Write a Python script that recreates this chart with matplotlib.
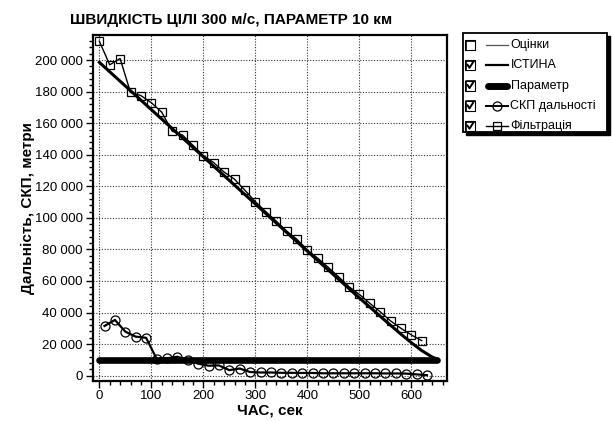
import numpy as np
import matplotlib
matplotlib.use('Agg')
import matplotlib.pyplot as plt
from matplotlib.ticker import MultipleLocator, FuncFormatter
from matplotlib.patches import Rectangle

plt.rcParams['font.family'] = ['Liberation Sans', 'DejaVu Sans']

'''------------------------------------------data------------------------------------------'''
# truth range (ІСТИНА)
t_true = [0, 100, 200, 300, 400, 450, 500, 550, 580, 600, 620, 640, 650]
r_true = [198600, 168600, 138700, 108800, 78900, 64100, 49300, 34800, 26300, 20900, 15900, 11800, 10500]

# parameter line (Параметр)
t_param = [0, 650]
r_param = [10000, 10000]

# filtered range (Фільтрація), every 20 s
t_filt = list(range(0, 640, 20))
r_filt = [212000, 197000, 201000, 179500, 177500, 173000, 167000, 155000,
          152500, 146000, 139500, 135000, 129000, 124500, 117500, 110300,
          104000, 98000, 91700, 86400, 79700, 74400, 68700, 62700,
          56400, 51500, 45900, 40500, 34700, 30000, 25800, 22200]

# range rms error (СКП дальності), every 20 s starting at 10
t_rms = list(range(10, 650, 20))
r_rms = [31500, 35300, 27900, 24700, 24000, 10800, 11000, 12000,
         10000, 7600, 6300, 6500, 3500, 4500, 2300, 2000,
         2000, 1800, 1800, 1700, 1700, 1500, 1500, 1500,
         1500, 1500, 1500, 1400, 1400, 1300, 800, 300]

legend_labels = ['Оцінки', 'ІСТИНА', 'Параметр', 'СКП дальності', 'Фільтрація']
legend_checked = [False, True, True, True, True]

'''------------------------------------------plot------------------------------------------'''
W, H = 612, 421
fig = plt.figure(figsize=(W / 100, H / 100), dpi=100)
ax = fig.add_axes([92.7 / W, 1 - 380.7 / H, (446.7 - 92.7) / W, (380.7 - 35) / H])

ax.plot(t_param, r_param, color='black', lw=4.8, solid_capstyle='round', zorder=3)
ax.plot(t_true, r_true, color='black', lw=2.2, zorder=4)
ax.plot(t_filt, r_filt, color='black', lw=1.0, marker='s', ms=5.5, mfc='none', mew=0.9, zorder=5)
ax.plot(t_rms, r_rms, color='black', lw=1.6, marker='o', ms=6.5, mfc='none', mew=0.9, zorder=5)

ax.set_xlim(-12.7, 668)
ax.set_ylim(-3200, 215900)
ax.xaxis.set_major_locator(MultipleLocator(100))
ax.xaxis.set_minor_locator(MultipleLocator(20))
ax.yaxis.set_major_locator(MultipleLocator(20000))
ax.yaxis.set_minor_locator(MultipleLocator(4000))
ax.yaxis.set_major_formatter(FuncFormatter(lambda v, p: f"{int(v):,}".replace(',', ' ')))
ax.tick_params(which='major', direction='out', length=5, width=1, labelsize=9.5, pad=2)
ax.tick_params(which='minor', direction='out', length=3, width=1)
ax.grid(True, which='major', color='#333333', ls=(0, (1, 1.5)), lw=0.8)
for s in ax.spines.values():
    s.set_linewidth(1.6)

fig.text(231.5 / W, 1 - 20 / H, 'ШВИДКІСТЬ ЦІЛІ 300 м/с, ПАРАМЕТР 10 км',
         ha='center', va='center', fontsize=11, fontweight='bold')
ax.set_xlabel('ЧАС, сек', fontsize=11, fontweight='bold', labelpad=1)
ax.set_ylabel('Дальність, СКП, метри', fontsize=11, fontweight='bold', labelpad=0)

# legend drawn by hand (checkbox list with shadow)
lax = fig.add_axes([455 / W, 1 - 142 / H, 157 / W, 114 / H])
lax.set_xlim(455, 612)
lax.set_ylim(142, 28)
lax.axis('off')
lax.add_patch(Rectangle((465.5, 36), 144, 99, color='black', zorder=1))
lax.add_patch(Rectangle((462.5, 33), 144, 99, facecolor='white', edgecolor='black', lw=1.3, zorder=2))
for i, lab in enumerate(legend_labels):
    y = 45 + 20.3 * i
    lax.add_patch(Rectangle((465, y - 5), 10, 10, facecolor='white', edgecolor='black', lw=0.8, zorder=3))
    lax.plot([465.5, 465.5, 475], [y + 5, y - 4.5, y - 4.5], color='black', lw=1.2, zorder=4)
    if legend_checked[i]:
        lax.plot([467.5, 469.5, 473], [y - 0.5, y + 2.5, y - 3], color='black', lw=1.4, zorder=4)
    if i == 0:
        lax.plot([486, 508], [y, y], color='#555555', lw=0.9, zorder=3)
    elif i == 1:
        lax.plot([486, 508], [y, y], color='black', lw=1.6, zorder=3)
    elif i == 2:
        lax.plot([488, 507], [y, y], color='black', lw=5, solid_capstyle='round', zorder=3)
    elif i == 3:
        lax.plot([497], [y], marker='o', ms=6.5, mfc='white', mec='black', mew=0.9, zorder=4)
        lax.plot([486, 508], [y, y], color='black', lw=1.4, zorder=5)
    else:
        lax.plot([497], [y], marker='s', ms=5.5, mfc='white', mec='black', mew=0.9, zorder=4)
        lax.plot([486, 508], [y, y], color='black', lw=1.0, zorder=5)
    lax.text(510.5, y, lab, fontsize=9, va='center', ha='left', zorder=4)

fig.savefig('out.png', dpi=100)
